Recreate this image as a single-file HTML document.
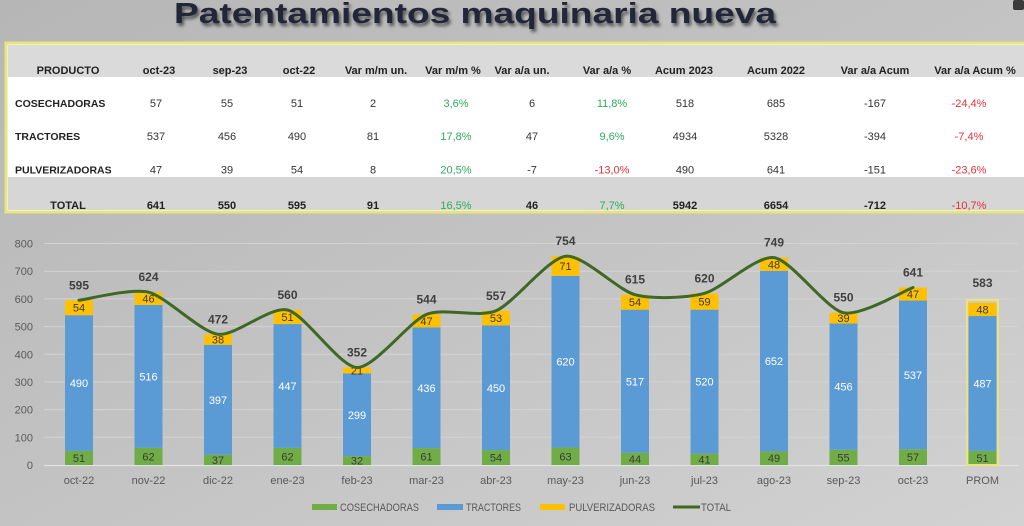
<!DOCTYPE html>
<html><head><meta charset="utf-8"><style>
html,body{margin:0;padding:0;background:#c4c4c4;}
svg{display:block;font-family:"Liberation Sans",sans-serif;}
</style></head><body>
<svg width="1024" height="526" viewBox="0 0 1024 526" xmlns="http://www.w3.org/2000/svg">
<defs>
<linearGradient id="bg" x1="0" y1="0" x2="1" y2="1">
<stop offset="0" stop-color="#b6b6b6"/><stop offset="0.5" stop-color="#c3c3c3"/><stop offset="1" stop-color="#d2d2d2"/>
</linearGradient>
<filter id="sh" x="-5%" y="-30%" width="110%" height="170%"><feDropShadow dx="2" dy="3" stdDeviation="1.6" flood-color="#000" flood-opacity="0.55"/></filter>
</defs>
<rect width="1024" height="526" fill="url(#bg)"/>
<!-- title -->
<text x="174" y="23" font-size="29" font-weight="bold" fill="#242839" textLength="602" lengthAdjust="spacingAndGlyphs" filter="url(#sh)">Patentamientos maquinaria nueva</text>
<rect x="1013" y="0" width="11" height="10" fill="#3a3a3a" rx="2"/>
<!-- table -->
<rect x="6" y="43" width="1030" height="169" fill="#ffffff" stroke="#e6e67c" stroke-width="3"/>
<rect x="8" y="45" width="1020" height="32" fill="#dadada"/>
<rect x="8" y="177" width="1020" height="33" fill="#d6d6d6"/>
<g font-size="11" font-weight="bold" fill="#222" text-anchor="middle">
<text x="68" y="74">PRODUCTO</text><text x="159" y="74">oct-23</text><text x="230" y="74">sep-23</text><text x="299" y="74">oct-22</text>
<text x="376" y="74">Var m/m un.</text><text x="453" y="74">Var m/m %</text><text x="522" y="74">Var a/a un.</text><text x="607" y="74">Var a/a %</text>
<text x="684" y="74">Acum 2023</text><text x="776" y="74">Acum 2022</text><text x="875" y="74">Var a/a Acum</text><text x="975" y="74">Var a/a Acum %</text>
</g>
<g font-size="10.5" font-weight="bold" fill="#222">
<text x="15" y="107">COSECHADORAS</text><text x="15" y="140">TRACTORES</text><text x="15" y="173.5">PULVERIZADORAS</text>
</g>
<g font-size="11" fill="#333" text-anchor="middle">
<text x="156" y="107">57</text><text x="227" y="107">55</text><text x="297" y="107">51</text><text x="373" y="107">2</text>
<text x="456" y="107" fill="#2faa5c">3,6%</text><text x="532" y="107">6</text><text x="612" y="107" fill="#2faa5c">11,8%</text>
<text x="685" y="107">518</text><text x="776" y="107">685</text><text x="875" y="107">-167</text><text x="969" y="107" fill="#e0343c">-24,4%</text>

<text x="156" y="140">537</text><text x="227" y="140">456</text><text x="297" y="140">490</text><text x="373" y="140">81</text>
<text x="456" y="140" fill="#2faa5c">17,8%</text><text x="532" y="140">47</text><text x="612" y="140" fill="#2faa5c">9,6%</text>
<text x="685" y="140">4934</text><text x="776" y="140">5328</text><text x="875" y="140">-394</text><text x="969" y="140" fill="#e0343c">-7,4%</text>

<text x="156" y="173.5">47</text><text x="227" y="173.5">39</text><text x="297" y="173.5">54</text><text x="373" y="173.5">8</text>
<text x="456" y="173.5" fill="#2faa5c">20,5%</text><text x="532" y="173.5">-7</text><text x="612" y="173.5" fill="#e0343c">-13,0%</text>
<text x="685" y="173.5">490</text><text x="776" y="173.5">641</text><text x="875" y="173.5">-151</text><text x="969" y="173.5" fill="#e0343c">-23,6%</text>
</g>
<g font-size="11" fill="#222" text-anchor="middle" font-weight="bold">
<text x="68" y="209">TOTAL</text><text x="156" y="209">641</text><text x="227" y="209">550</text><text x="297" y="209">595</text><text x="373" y="209">91</text>
<text x="456" y="209" fill="#2faa5c" font-weight="normal">16,5%</text><text x="532" y="209">46</text><text x="612" y="209" fill="#2faa5c" font-weight="normal">7,7%</text>
<text x="685" y="209">5942</text><text x="776" y="209">6654</text><text x="875" y="209">-712</text><text x="969" y="209" fill="#e0343c" font-weight="normal">-10,7%</text>
</g>
<!-- grid -->
<g stroke="#d3d3d3" stroke-width="1">
<line x1="44" y1="243.5" x2="1018" y2="243.5"/><line x1="44" y1="271.2" x2="1018" y2="271.2"/>
<line x1="44" y1="298.9" x2="1018" y2="298.9"/><line x1="44" y1="326.6" x2="1018" y2="326.6"/>
<line x1="44" y1="354.3" x2="1018" y2="354.3"/><line x1="44" y1="381.9" x2="1018" y2="381.9"/>
<line x1="44" y1="409.6" x2="1018" y2="409.6"/><line x1="44" y1="437.3" x2="1018" y2="437.3"/>
</g>
<line x1="44" y1="465.5" x2="1018" y2="465.5" stroke="#e2e2e2" stroke-width="1.2"/>
<g font-size="11" fill="#5a5a5a" text-anchor="end">
<text x="33" y="247.5">800</text><text x="33" y="275.2">700</text><text x="33" y="302.9">600</text><text x="33" y="330.6">500</text>
<text x="33" y="358.3">400</text><text x="33" y="385.9">300</text><text x="33" y="413.6">200</text><text x="33" y="441.3">100</text><text x="33" y="469">0</text>
</g>
<!-- bars -->
<g>
<rect x="65" y="450.88" width="28" height="14.12" fill="#70ad47"/><rect x="65" y="315.21" width="28" height="135.67" fill="#5b9bd5"/><rect x="65" y="300.26" width="28" height="14.95" fill="#ffc000"/>
<rect x="134.5" y="447.83" width="28" height="17.17" fill="#70ad47"/><rect x="134.5" y="304.96" width="28" height="142.87" fill="#5b9bd5"/><rect x="134.5" y="292.22" width="28" height="12.74" fill="#ffc000"/>
<rect x="204" y="454.76" width="28" height="10.24" fill="#70ad47"/><rect x="204" y="344.84" width="28" height="109.92" fill="#5b9bd5"/><rect x="204" y="334.32" width="28" height="10.52" fill="#ffc000"/>
<rect x="273.5" y="447.83" width="28" height="17.17" fill="#70ad47"/><rect x="273.5" y="324.07" width="28" height="123.76" fill="#5b9bd5"/><rect x="273.5" y="309.95" width="28" height="14.12" fill="#ffc000"/>
<rect x="343" y="456.14" width="28" height="8.86" fill="#70ad47"/><rect x="343" y="373.35" width="28" height="82.79" fill="#5b9bd5"/><rect x="343" y="367.54" width="28" height="5.81" fill="#ffc000"/>
<rect x="412.5" y="448.11" width="28" height="16.89" fill="#70ad47"/><rect x="412.5" y="327.39" width="28" height="120.72" fill="#5b9bd5"/><rect x="412.5" y="314.38" width="28" height="13.01" fill="#ffc000"/>
<rect x="482" y="450.05" width="28" height="14.95" fill="#70ad47"/><rect x="482" y="325.46" width="28" height="124.59" fill="#5b9bd5"/><rect x="482" y="310.79" width="28" height="14.67" fill="#ffc000"/>
<rect x="551.5" y="447.56" width="28" height="17.44" fill="#70ad47"/><rect x="551.5" y="275.9" width="28" height="171.66" fill="#5b9bd5"/><rect x="551.5" y="256.24" width="28" height="19.66" fill="#ffc000"/>
<rect x="621" y="452.82" width="28" height="12.18" fill="#70ad47"/><rect x="621" y="309.68" width="28" height="143.14" fill="#5b9bd5"/><rect x="621" y="294.73" width="28" height="14.95" fill="#ffc000"/>
<rect x="690.5" y="453.65" width="28" height="11.35" fill="#70ad47"/><rect x="690.5" y="309.67" width="28" height="143.98" fill="#5b9bd5"/><rect x="690.5" y="293.33" width="28" height="16.34" fill="#ffc000"/>
<rect x="760" y="451.43" width="28" height="13.57" fill="#70ad47"/><rect x="760" y="270.91" width="28" height="180.52" fill="#5b9bd5"/><rect x="760" y="257.62" width="28" height="13.29" fill="#ffc000"/>
<rect x="829.5" y="449.77" width="28" height="15.23" fill="#70ad47"/><rect x="829.5" y="323.51" width="28" height="126.26" fill="#5b9bd5"/><rect x="829.5" y="312.71" width="28" height="10.8" fill="#ffc000"/>
<rect x="899" y="449.22" width="28" height="15.78" fill="#70ad47"/><rect x="899" y="300.54" width="28" height="148.68" fill="#5b9bd5"/><rect x="899" y="287.53" width="28" height="13.01" fill="#ffc000"/>
<rect x="968.5" y="450.88" width="28" height="14.12" fill="#70ad47"/><rect x="968.5" y="316.04" width="28" height="134.84" fill="#5b9bd5"/><rect x="968.5" y="302.75" width="28" height="13.29" fill="#ffc000"/>
<rect x="967" y="300" width="31" height="165" fill="none" stroke="#ece47a" stroke-width="2"/>
</g>
<!-- segment labels -->
<g font-size="11" text-anchor="middle" fill="#3a3a3a">
<text x="79" y="461.9">51</text><text x="148.5" y="460.4">62</text><text x="218" y="463.9">37</text><text x="287.5" y="460.4">62</text>
<text x="357" y="464.6">32</text><text x="426.5" y="460.6">61</text><text x="496" y="461.5">54</text><text x="565.5" y="460.3">63</text>
<text x="635" y="462.9">44</text><text x="704.5" y="463.3">41</text><text x="774" y="462.2">49</text><text x="843.5" y="461.4">55</text>
<text x="913" y="461.1">57</text><text x="982.5" y="461.9">51</text>
<text x="79" y="311.7">54</text><text x="148.5" y="302.6">46</text><text x="218" y="343.6">38</text><text x="287.5" y="321">51</text>
<text x="357" y="374.5">21</text><text x="426.5" y="324.9">47</text><text x="496" y="322.1">53</text><text x="565.5" y="270.1">71</text>
<text x="635" y="306.2">54</text><text x="704.5" y="305.5">59</text><text x="774" y="268.3">48</text><text x="843.5" y="322.1">39</text>
<text x="913" y="298">47</text><text x="982.5" y="313.4">48</text>
</g>
<g font-size="11" text-anchor="middle" fill="#ffffff">
<text x="79" y="387.1">490</text><text x="148.5" y="380.4">516</text><text x="218" y="403.8">397</text><text x="287.5" y="390">447</text>
<text x="357" y="418.8">299</text><text x="426.5" y="391.8">436</text><text x="496" y="391.8">450</text><text x="565.5" y="365.7">620</text>
<text x="635" y="385.3">517</text><text x="704.5" y="385.7">520</text><text x="774" y="365.2">652</text><text x="843.5" y="390.6">456</text>
<text x="913" y="378.9">537</text><text x="982.5" y="387.5">487</text>
</g>
<!-- total line -->
<path d="M79,300.3 C87.7,299.3 131.1,287.95 148.5,292.2 C165.9,296.45 200.6,332.07 218,334.3 C235.4,336.53 270.1,305.85 287.5,310 C304.9,314.15 339.6,366.95 357,367.5 C374.4,368.05 409.1,321.49 426.5,314.4 C443.9,307.31 478.6,318.08 496,310.8 C513.4,303.52 548.1,258.21 565.5,256.2 C582.9,254.19 617.6,290.06 635,294.7 C652.4,299.34 687.1,297.94 704.5,293.3 C721.9,288.66 756.6,255.17 774,257.6 C791.4,260.03 826.1,308.96 843.5,312.7 C860.9,316.44 904.3,290.65 913,287.5" fill="none" stroke="#3e6823" stroke-width="3" stroke-linejoin="round" stroke-linecap="round"/>
<!-- totals -->
<g font-size="12" font-weight="bold" text-anchor="middle" fill="#404040">
<text x="79" y="289.3">595</text><text x="148.5" y="281.2">624</text><text x="218" y="323.3">472</text><text x="287.5" y="299">560</text>
<text x="357" y="356.5">352</text><text x="426.5" y="303.4">544</text><text x="496" y="299.8">557</text><text x="565.5" y="245.2">754</text>
<text x="635" y="283.7">615</text><text x="704.5" y="282.3">620</text><text x="774" y="246.6">749</text><text x="843.5" y="301.7">550</text>
<text x="913" y="276.5">641</text><text x="982.5" y="287">583</text>
</g>
<!-- x labels -->
<g font-size="11" text-anchor="middle" fill="#595959">
<text x="79" y="484">oct-22</text><text x="148.5" y="484">nov-22</text><text x="218" y="484">dic-22</text><text x="287.5" y="484">ene-23</text>
<text x="357" y="484">feb-23</text><text x="426.5" y="484">mar-23</text><text x="496" y="484">abr-23</text><text x="565.5" y="484">may-23</text>
<text x="635" y="484">jun-23</text><text x="704.5" y="484">jul-23</text><text x="774" y="484">ago-23</text><text x="843.5" y="484">sep-23</text>
<text x="913" y="484">oct-23</text><text x="982.5" y="484">PROM</text>
</g>
<!-- legend -->
<rect x="312" y="504" width="25" height="6" fill="#70ad47"/>
<rect x="437" y="504" width="26" height="6" fill="#5b9bd5"/>
<rect x="540" y="504" width="25" height="6" fill="#ffc000"/>
<line x1="673" y1="507" x2="700" y2="507" stroke="#3e6823" stroke-width="3"/>
<g font-size="11" fill="#595959">
<text x="340" y="511" textLength="79" lengthAdjust="spacingAndGlyphs">COSECHADORAS</text>
<text x="466" y="511" textLength="55" lengthAdjust="spacingAndGlyphs">TRACTORES</text>
<text x="569" y="511" textLength="86" lengthAdjust="spacingAndGlyphs">PULVERIZADORAS</text>
<text x="701" y="511" textLength="30" lengthAdjust="spacingAndGlyphs">TOTAL</text>
</g>
</svg>
</body></html>
